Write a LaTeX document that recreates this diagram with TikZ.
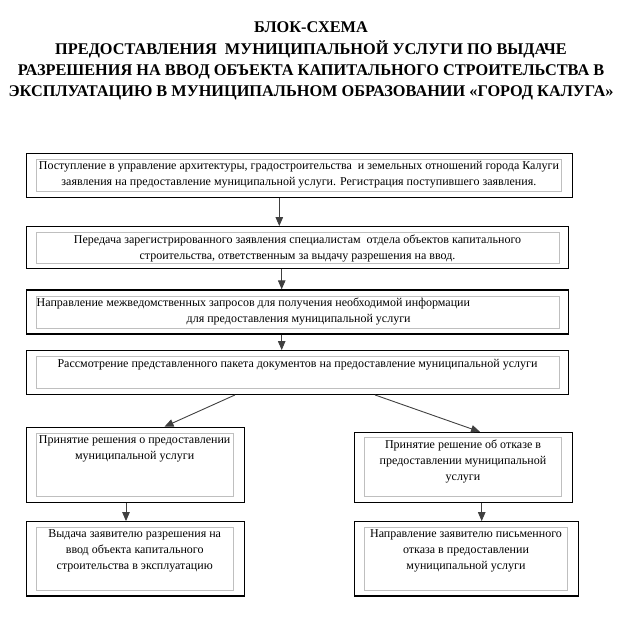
\documentclass[tikz,border=0pt]{standalone}
\usepackage{fontspec}
\setmainfont{Liberation Serif}
\usetikzlibrary{arrows.meta}
\tikzset{
  outerbox/.style={draw, line width=1.3pt, inner sep=0pt},
  innerbox/.style={draw=black!25, line width=1pt, inner sep=0pt},
  boxtext/.style={anchor=north, align=center, inner sep=2.5pt,
    font=\fontsize{12}{16}\selectfont},
  flow/.style={draw=black!75, line width=0.9pt, -{Triangle[length=9pt,width=7.5pt]}}
}
\begin{document}
\begin{tikzpicture}[x=1pt,y=-1pt]
\useasboundingbox (0,0) rectangle (622,632);
\node(title) at (311,61)[align=center, font=\bfseries\fontsize{16.3}{21.3}\selectfont]
  {БЛОК-СХЕМА\\
   ПРЕДОСТАВЛЕНИЯ \ МУНИЦИПАЛЬНОЙ УСЛУГИ ПО ВЫДАЧЕ\\
   РАЗРЕШЕНИЯ НА ВВОД ОБЪЕКТА КАПИТАЛЬНОГО СТРОИТЕЛЬСТВА В\\
   ЭКСПЛУАТАЦИЮ В МУНИЦИПАЛЬНОМ ОБРАЗОВАНИИ «ГОРОД КАЛУГА»};
% main column
\node(o1) at (299.5,175.3)[outerbox, minimum width=545.6pt, minimum height=44pt]{};
\node(i1) at (298.9,175.2)[innerbox, minimum width=525.7pt, minimum height=31.7pt]{};
\node(t1) at (i1.north)[boxtext]
  {Поступление в управление архитектуры, градостроительства \ и земельных отношений города Калуги\\
   заявления на предоставление муниципальной услуги. Регистрация поступившего заявления.};
\node(o2) at (297.5,247.5)[outerbox, minimum width=541.6pt, minimum height=41.6pt]{};
\node(i2) at (297.5,247.8)[innerbox, minimum width=523pt, minimum height=31pt]{};
\node(t2) at (i2.north)[boxtext]
  {Передача зарегистрированного заявления специалистам \ отдела объектов капитального\\
   строительства, ответственным за выдачу разрешения на ввод.};
\node(o3) at (297.5,312)[outerbox, minimum width=541.6pt, minimum height=44pt]{};
\node(i3) at (297.5,312)[innerbox, minimum width=523pt, minimum height=32pt]{};
\node(t3) at (i3.north west)[boxtext, anchor=north west, align=left, inner xsep=1pt]
  {Направление межведомственных запросов для получения необходимой информации\\
   \hspace*{150pt}для предоставления муниципальной услуги};
\node(o4) at (297.5,372.5)[outerbox, minimum width=541.6pt, minimum height=43.6pt]{};
\node(i4) at (297.5,372.5)[innerbox, minimum width=523pt, minimum height=31.6pt]{};
\node(t4) at (i4.north)[boxtext]
  {Рассмотрение представленного пакета документов на предоставление муниципальной услуги};
% left branch
\node(o5) at (135.5,464.8)[outerbox, minimum width=217.6pt, minimum height=75pt]{};
\node(i5) at (134.7,464.7)[innerbox, minimum width=197.3pt, minimum height=62.7pt]{};
\node(t5) at (i5.north)[boxtext]
  {Принятие решения о предоставлении\\ муниципальной услуги};
\node(o7) at (135.5,558.9)[outerbox, minimum width=217.6pt, minimum height=74.3pt]{};
\node(i7) at (134.7,558.8)[innerbox, minimum width=197.3pt, minimum height=63pt]{};
\node(t7) at (i7.north)[boxtext]
  {Выдача заявителю разрешения на\\ ввод объекта капитального\\ строительства в эксплуатацию};
% right branch
\node(o6) at (463.3,467.4)[outerbox, minimum width=218pt, minimum height=69.8pt]{};
\node(i6) at (463,466.7)[innerbox, minimum width=197.4pt, minimum height=58.7pt]{};
\node(t6) at (i6.north)[boxtext]
  {Принятие решение об отказе в\\ предоставлении муниципальной\\ услуги};
\node(o8) at (466.3,558.9)[outerbox, minimum width=224pt, minimum height=74.3pt]{};
\node(i8) at (466,558.8)[innerbox, minimum width=203.4pt, minimum height=63pt]{};
\node(t8) at (i8.north)[boxtext]
  {Направление заявителю письменного\\ отказа в предоставлении\\ муниципальной услуги};
% arrows
\draw[flow] ([xshift=-20.2pt]o1.south) -- ([xshift=-18.2pt]o2.north);
\draw[flow] ([xshift=-15.8pt]o2.south) -- ([xshift=-15.8pt]o3.north);
\draw[flow] ([xshift=-15.8pt]o3.south) -- ([xshift=-15.8pt]o4.north);
\draw[flow] ([xshift=-62.5pt]o4.south) -- ([xshift=29pt]o5.north);
\draw[flow] ([xshift=77.5pt]o4.south) -- ([xshift=16.7pt]o6.north);
\draw[flow] ([xshift=-9.5pt]o5.south) -- ([xshift=-9.5pt]o7.north);
\draw[flow] ([xshift=18.4pt]o6.south) -- ([xshift=15.4pt]o8.north);
\end{tikzpicture}
\end{document}
